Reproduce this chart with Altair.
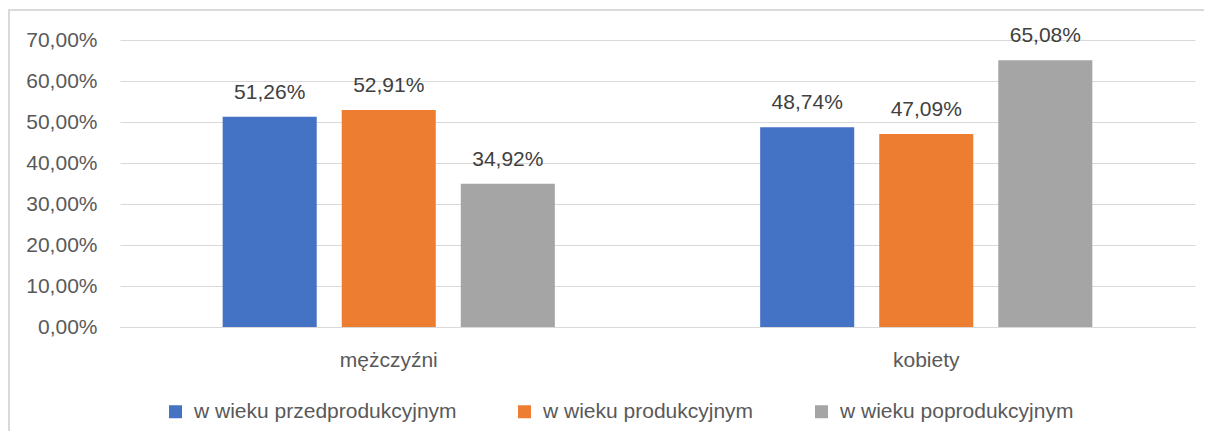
import altair as alt
import pandas as pd

categories = ["mężczyźni", "kobiety"]
groups = ["w wieku przedprodukcyjnym", "w wieku produkcyjnym", "w wieku poprodukcyjnym"]
values_m = [51.26, 52.91, 34.92]
values_k = [48.74, 47.09, 65.08]
colors = ["#4472C4", "#ED7D31", "#A5A5A5"]
y_ticks = [0, 10, 20, 30, 40, 50, 60, 70]

rows = []
for cat, vals in zip(categories, [values_m, values_k]):
    for g, v in zip(groups, vals):
        rows.append({"plec": cat, "grupa": g, "v": v})
df = pd.DataFrame(rows)

FONT = "Liberation Sans"
FS = 21
TXT = "#595959"

x_enc = alt.X("plec:N", sort=categories,
              scale=alt.Scale(paddingInner=0.382, paddingOuter=0.191),
              axis=alt.Axis(title=None, labelAngle=0, ticks=False, domainColor="#d9d9d9",
                            labelFontSize=FS, labelColor=TXT, labelFont=FONT, labelPadding=22))
xo_enc = alt.XOffset("grupa:N", sort=groups, scale=alt.Scale(paddingInner=0.21, paddingOuter=0))
y_enc = alt.Y("v:Q", scale=alt.Scale(domain=[0, 70]),
              axis=alt.Axis(values=y_ticks, title=None, domain=False, ticks=False,
                            gridColor="#d9d9d9", labelPadding=23, labelFontSize=FS,
                            labelColor=TXT, labelFont=FONT,
                            labelExpr="replace(format(datum.value, '.2f'), '.', ',') + '%'"))

base = alt.Chart(df)

bars = base.mark_bar().encode(
    x=x_enc, xOffset=xo_enc, y=y_enc,
    color=alt.Color("grupa:N", sort=groups,
                    scale=alt.Scale(domain=groups, range=colors),
                    legend=alt.Legend(title=None, orient="none", legendX=45, legendY=361,
                                      padding=0, direction="horizontal", symbolType="square",
                                      symbolSize=169, symbolStrokeWidth=0,
                                      labelFontSize=FS, labelColor=TXT, labelFont=FONT,
                                      labelLimit=0, labelOffset=8, columnPadding=57)),
)

labels = base.transform_calculate(
    lab="replace(format(datum.v, '.2f'), '.', ',') + '%'"
).mark_text(baseline="alphabetic", dy=-18, fontSize=FS, font=FONT, color="#404040").encode(
    x=x_enc, xOffset=xo_enc, y=y_enc, text="lab:N"
)

border = alt.Chart(pd.DataFrame({"a": [0]})).mark_rect(
    fill="transparent", stroke="#d9d9d9", strokeWidth=2
).encode(x=alt.value(-111), x2=alt.value(1110), y=alt.value(-30), y2=alt.value(430))

chart = alt.layer(border, bars, labels).properties(
    width=1075, height=287,
    padding={"left": 112, "top": 32, "right": 9, "bottom": 104},
    autosize="none",
).configure_view(stroke=None)

chart.save("out.html", embed_options={"renderer": "svg", "actions": False})
